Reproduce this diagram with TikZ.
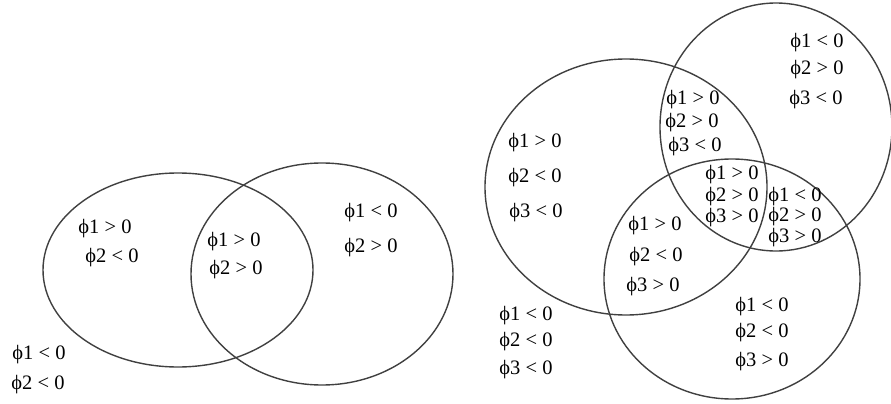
\documentclass[tikz,border=0pt]{standalone}
\usepackage{fontspec}
\setmainfont{Liberation Serif}
\begin{document}
\begin{tikzpicture}[x=1pt,y=-1pt,
  ring/.style={draw=black!75,line width=1.4pt},
  lab/.style={inner sep=0pt,font=\fontsize{20.5}{20.5}\selectfont,text=black}]
\useasboundingbox (0,0) rectangle (891,404);
% left diagram
\draw[ring] (178,270) ellipse [x radius=135,y radius=97];
\draw[ring] (322,274) ellipse [x radius=131,y radius=111];
\node[lab] (l1a) at (105,229) {ϕ1 > 0};
\node[lab] (l1b) at (112,258) {ϕ2 < 0};
\node[lab] (l2a) at (234,242) {ϕ1 > 0};
\node[lab] (l2b) at (236,270) {ϕ2 > 0};
\node[lab] (l3a) at (371,213) {ϕ1 < 0};
\node[lab] (l3b) at (371,248) {ϕ2 > 0};
\node[lab] (l4a) at (39,355) {ϕ1 < 0};
\node[lab] (l4b) at (38,385) {ϕ2 < 0};
% right diagram
\draw[ring] (626,187) ellipse [x radius=141,y radius=128];
\draw[ring] (776,127) ellipse [x radius=116,y radius=124];
\draw[ring] (732,279) ellipse [x radius=128,y radius=120];
\node[lab] (r1a) at (817,43) {ϕ1 < 0};
\node[lab] (r1b) at (817,70) {ϕ2 > 0};
\node[lab] (r1c) at (816,100) {ϕ3 < 0};
\node[lab] (r2a) at (693,100) {ϕ1 > 0};
\node[lab] (r2b) at (692,123) {ϕ2 > 0};
\node[lab] (r2c) at (695,147) {ϕ3 < 0};
\node[lab] (r3a) at (732,175) {ϕ1 > 0};
\node[lab] (r3b) at (732,197) {ϕ2 > 0};
\node[lab] (r3c) at (732,218) {ϕ3 > 0};
\node[lab] (r4a) at (795,197) {ϕ1 < 0};
\node[lab] (r4b) at (795,217) {ϕ2 > 0};
\node[lab] (r4c) at (795,238) {ϕ3 > 0};
\node[lab] (r5a) at (535,143) {ϕ1 > 0};
\node[lab] (r5b) at (535,178) {ϕ2 < 0};
\node[lab] (r5c) at (536,213) {ϕ3 < 0};
\node[lab] (r6a) at (655,226) {ϕ1 > 0};
\node[lab] (r6b) at (656,257) {ϕ2 < 0};
\node[lab] (r6c) at (653,287) {ϕ3 > 0};
\node[lab] (r7a) at (762,307) {ϕ1 < 0};
\node[lab] (r7b) at (762,333) {ϕ2 < 0};
\node[lab] (r7c) at (762,362) {ϕ3 > 0};
\node[lab] (r8a) at (526,316) {ϕ1 < 0};
\node[lab] (r8b) at (526,342) {ϕ2 < 0};
\node[lab] (r8c) at (526,370) {ϕ3 < 0};
\end{tikzpicture}
\end{document}
